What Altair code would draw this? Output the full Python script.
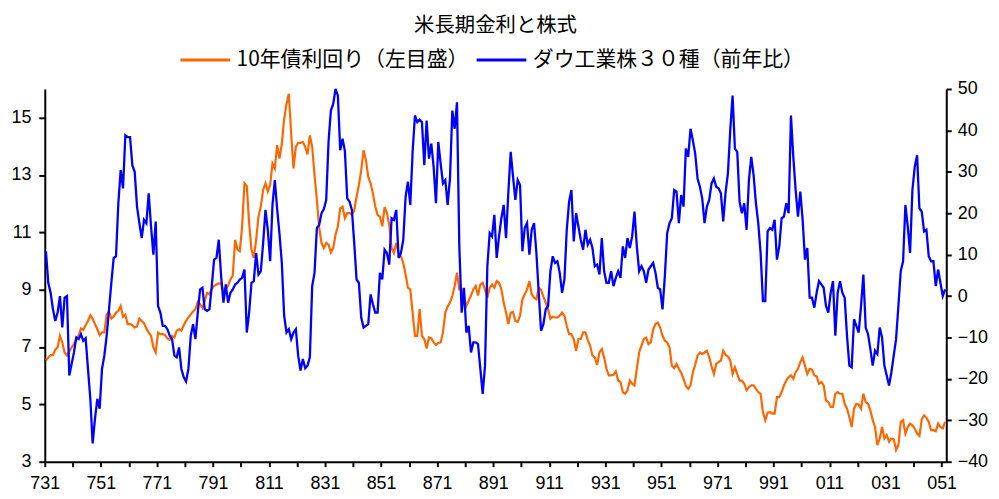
import altair as alt
import pandas as pd

title_text = "米長期金利と株式"
series_names = ["10年債利回り（左目盛）", "ダウ工業株３０種（前年比）"]
series_colors = ["#FF6600", "#0000FF"]
start_year = 1973  # monthly data, 1973/1 ..
label_every_months = 24
tick_every_months = 12

# US 10-year Treasury yield (%), monthly, left axis
yield_10y = [
    6.53, 6.64, 6.72, 6.72, 6.91, 6.99, 7.39, 7.16, 6.81, 6.70, 6.84, 6.99,
    7.10, 7.33, 7.39, 7.65, 7.60, 7.76, 7.91, 8.11, 7.99, 7.80, 7.62, 7.42,
    7.51, 7.51, 8.14, 8.24, 7.99, 8.06, 8.20, 8.26, 8.43, 8.06, 8.13, 7.80,
    7.80, 7.76, 7.68, 7.72, 7.99, 7.91, 7.83, 7.65, 7.51, 7.39, 6.99, 6.81,
    7.50, 7.45, 7.45, 7.42, 7.30, 7.25, 7.39, 7.33, 7.57, 7.62, 7.57, 7.76,
    7.91, 8.03, 8.14, 8.24, 8.32, 8.57, 8.49, 8.37, 8.61, 8.89, 8.84, 9.03,
    9.13, 9.18, 9.22, 9.22, 8.95, 9.03, 9.15, 9.36, 9.50, 10.74, 10.40, 10.34,
    11.21, 12.71, 12.61, 11.32, 10.40, 10.11, 10.74, 11.55, 11.90, 12.48, 12.71, 12.42,
    12.65, 13.40, 13.23, 14.04, 13.57, 14.09, 14.96, 15.48, 15.83, 14.44, 13.23, 13.98,
    14.12, 14.12, 14.15, 13.98, 13.72, 14.38, 13.98, 13.00, 12.13, 11.15, 10.63, 10.45,
    10.63, 10.57, 10.30, 10.45, 10.92, 11.21, 11.84, 11.90, 11.49, 11.67, 11.67, 11.61,
    11.76, 12.24, 12.65, 13.17, 13.86, 13.52, 12.94, 12.71, 12.36, 11.90, 11.61, 11.55,
    11.21, 11.88, 11.67, 11.26, 10.45, 10.28, 10.63, 10.28, 10.17, 9.93, 9.53, 9.07,
    9.01, 8.20, 7.39, 7.39, 8.32, 7.39, 7.28, 6.95, 7.33, 7.30, 7.16, 7.07,
    7.14, 7.16, 7.51, 8.20, 8.41, 8.55, 8.78, 9.13, 9.59, 9.01, 9.03, 8.78,
    8.43, 8.61, 8.80, 9.01, 9.13, 8.80, 9.18, 9.24, 9.01, 8.72, 9.07, 9.18,
    9.07, 9.30, 9.24, 9.01, 8.55, 8.20, 7.80, 8.20, 8.22, 7.91, 7.88, 8.09,
    8.66, 8.84, 9.01, 9.30, 8.84, 8.72, 8.66, 9.07, 8.99, 8.76, 8.55, 8.32,
    7.99, 8.06, 8.03, 8.03, 8.09, 8.20, 8.09, 7.74, 7.45, 7.45, 7.28, 6.87,
    7.28, 7.28, 7.51, 7.51, 7.25, 7.05, 6.70, 6.64, 6.38, 6.81, 6.93, 6.64,
    6.24, 6.01, 6.01, 6.03, 6.15, 5.83, 5.78, 5.43, 5.37, 5.49, 5.83, 5.72,
    5.66, 6.24, 6.81, 7.05, 7.28, 7.33, 7.10, 7.16, 7.62, 7.80, 7.85, 7.68,
    7.39, 7.22, 7.16, 6.99, 6.35, 6.26, 6.41, 6.24, 6.10, 5.89, 5.64, 5.54,
    5.66, 6.12, 6.38, 6.70, 6.81, 6.76, 6.81, 6.87, 6.64, 6.33, 6.06, 6.41,
    6.47, 6.53, 6.87, 6.73, 6.67, 6.53, 6.06, 6.29, 6.06, 5.83, 5.83, 5.72,
    5.49, 5.60, 5.66, 5.66, 5.54, 5.43, 5.37, 4.73, 4.45, 4.71, 4.73, 4.68,
    4.68, 5.25, 5.25, 5.43, 5.66, 5.83, 5.95, 6.01, 5.89, 6.12, 6.24, 6.47,
    6.64, 6.35, 6.06, 6.24, 6.21, 6.01, 5.98, 5.72, 5.78, 5.66, 5.14, 5.08,
    4.91, 4.91, 5.37, 5.43, 5.37, 5.37, 5.02, 4.85, 4.56, 4.21, 4.85, 5.02,
    4.99, 4.85, 5.37, 5.08, 5.02, 4.79, 4.45, 4.21, 3.58, 3.81, 4.21, 3.81,
    3.93, 3.70, 3.81, 3.79, 3.41, 3.58, 4.39, 4.45, 3.98, 4.21, 4.33, 4.27,
    4.16, 3.98, 3.90, 4.48, 4.62, 4.53, 4.39, 4.10, 4.10, 4.06, 4.33, 4.21,
    4.16, 4.39,
]

# Dow Jones Industrial Average 30, year-over-year change (%), right axis
dow_yoy = [
    10.8, 3.2, 0.8, -3.2, -6.0, -4.0, 0.0, -7.6, -0.4, 0.0, -19.2, -16.4,
    -13.6, -10.0, -10.4, -9.2, -10.8, -10.2, -17.6, -24.8, -35.6, -29.6, -24.8, -27.2,
    -17.6, -14.4, -9.6, -3.2, 3.2, 9.2, 9.6, 22.4, 30.4, 26.0, 38.8, 38.4,
    38.4, 31.6, 30.0, 21.6, 17.6, 14.0, 18.4, 17.6, 24.8, 16.8, 10.0, 18.0,
    -2.4, -4.0, -7.2, -7.2, -8.0, -9.6, -10.4, -14.4, -14.8, -12.4, -17.6, -19.6,
    -20.6, -17.6, -9.6, -6.8, -10.4, -4.0, 1.6, 2.0, -3.2, -3.6, -3.2, 2.4,
    8.8, 9.2, 13.6, 4.8, -1.6, 2.8, -1.6, 0.8, 1.6, 2.8, 3.2, 4.0,
    4.4, 6.4, -8.8, -4.0, 3.2, 3.6, 10.4, 5.2, 6.0, 12.8, 20.8, 16.0,
    8.4, 22.0, 28.0, 21.0, 15.0, 8.0, -4.8, -8.8, -8.0, -10.4, -8.8, -8.0,
    -14.4, -18.0, -15.2, -17.4, -16.8, -14.8, 2.4, 5.6, 16.4, 17.2, 20.0, 21.0,
    23.2, 37.2, 44.8, 46.4, 50.0, 48.4, 35.2, 38.0, 35.0, 23.6, 22.8, 20.8,
    12.8, 4.0, 3.2, -5.2, -7.6, -7.2, -6.8, 0.4, -2.0, -4.0, -4.0, 5.6,
    4.0, 11.2, 10.4, 7.6, 18.8, 18.4, 20.8, 9.2, 10.4, 13.6, 24.0, 27.6,
    22.0, 34.8, 43.6, 42.0, 42.6, 42.0, 31.6, 42.4, 33.2, 36.8, 31.2, 22.4,
    37.2, 32.0, 27.2, 28.0, 22.0, 28.4, 44.8, 40.4, 46.8, 12.0, -4.0, 2.0,
    -8.8, -7.2, -13.6, -11.2, -11.2, -11.6, -17.6, -23.6, -16.8, 7.2, 15.2, 14.4,
    19.6, 9.2, 14.4, 18.8, 22.0, 14.0, 25.2, 34.8, 28.8, 23.2, 28.0, 26.8,
    10.8, 16.4, 17.6, 10.0, 16.0, 17.6, 10.4, 0.8, -8.4, -6.8, -3.2, -2.4,
    6.0, 9.6, 8.0, 8.4, 5.6, 0.8, 4.0, 16.0, 22.8, 25.6, 13.2, 20.0,
    16.8, 13.6, 11.2, 16.0, 12.4, 13.6, 11.6, 7.2, 7.6, 5.2, 14.0, 6.0,
    3.2, 3.2, 6.0, 2.4, 4.4, 6.0, 4.4, 12.0, 9.2, 14.0, 11.6, 14.4,
    20.4, 12.0, 6.0, 7.2, 6.0, 3.2, 6.4, 7.2, 8.0, 5.6, 2.0, 1.6,
    -3.2, 4.8, 15.2, 17.6, 18.8, 25.6, 25.2, 17.6, 24.4, 21.6, 35.6, 33.6,
    40.4, 37.6, 34.4, 28.4, 26.4, 23.6, 17.6, 21.6, 23.2, 27.2, 28.4, 26.4,
    26.0, 24.8, 18.0, 25.0, 29.6, 40.0, 48.4, 35.6, 34.8, 22.8, 20.0, 22.4,
    16.0, 28.0, 33.6, 29.2, 22.4, 17.6, 10.4, -1.2, -1.2, 15.6, 16.4, 16.0,
    18.4, 8.8, 12.0, 18.8, 19.2, 22.4, 20.0, 43.6, 33.6, 25.6, 19.2, 25.2,
    18.4, 8.8, 11.6, -0.4, -0.4, -2.8, 0.8, 3.6, 2.8, 2.0, -2.4, -4.0,
    0.8, 3.6, -9.6, 0.8, 3.6, 0.8, -0.4, -9.6, -16.8, -17.2, -5.6, -7.2,
    -8.8, -2.4, 5.2, -7.6, -9.2, -12.8, -16.8, -13.2, -14.0, -7.6, -10.0, -16.8,
    -19.2, -21.6, -18.4, -14.4, -10.4, -2.4, 6.0, 8.4, 22.0, 16.8, 10.4, 25.6,
    31.2, 34.0, 21.2, 20.4, 15.6, 16.0, 9.6, 8.4, 8.4, 2.4, 6.4, 3.2,
    0.0, 1.6,
]

left_ticks = [3, 5, 7, 9, 11, 13, 15]
left_domain = [3, 16]
right_ticks = [-40, -30, -20, -10, 0, 10, 20, 30, 40, 50]
right_domain = [-40, 50]

n = len(yield_10y)
t = [i + 0.5 for i in range(n)]
df_y = pd.DataFrame({"t": t, "value": yield_10y, "series": series_names[0]})
df_d = pd.DataFrame({"t": t, "value": dow_yoy, "series": series_names[1]})

yy = start_year % 100
label_expr = (
    f"datum.value % {label_every_months} == 0 ? "
    f"((floor({yy} + datum.value / 12) % 100) < 10 ? '0' : '') + "
    f"(floor({yy} + datum.value / 12) % 100) + '1' : ''"
)

x_enc = alt.X(
    "t:Q",
    scale=alt.Scale(domain=[0, n], nice=False, zero=False),
    axis=alt.Axis(
        values=list(range(0, n, tick_every_months)),
        labelExpr=label_expr,
        title=None,
        labelFlush=False,
        labelOverlap=False,
        labelPadding=8,
        tickSize=5,
    ),
)

color_enc = alt.Color(
    "series:N",
    scale=alt.Scale(domain=series_names, range=series_colors),
    legend=alt.Legend(
        title=None,
        orient="none",
        legendX=135,
        legendY=-56,
        direction="horizontal",
        symbolType="stroke",
        symbolSize=2500,
        symbolStrokeWidth=3,
        labelFont="Noto Sans CJK JP",
        labelFontSize=21,
        labelColor="black",
        labelLimit=500,
        labelOffset=5,
        columnPadding=1,
    ),
)

orange = alt.Chart(df_y).mark_line(strokeWidth=2.2).encode(
    x=x_enc,
    y=alt.Y(
        "value:Q",
        scale=alt.Scale(domain=left_domain, nice=False, zero=False),
        axis=alt.Axis(values=left_ticks, title=None, orient="left", labelPadding=8, tickSize=6),
    ),
    color=color_enc,
)

blue = alt.Chart(df_d).mark_line(strokeWidth=2.3).encode(
    x=x_enc,
    y=alt.Y(
        "value:Q",
        scale=alt.Scale(domain=right_domain, nice=False, zero=False),
        axis=alt.Axis(values=right_ticks, title=None, orient="right", labelPadding=6, tickSize=5),
    ),
    color=color_enc,
)

chart = (
    alt.layer(orange, blue)
    .resolve_scale(y="independent")
    .properties(
        width=907,
        height=375,
        autosize=alt.AutoSizeParams(type="none"),
        padding={"left": 37, "top": 80, "right": 45, "bottom": 30},
        title=alt.TitleParams(
            text=title_text,
            font="Noto Sans CJK JP",
            fontSize=20.5,
            fontWeight="normal",
            color="black",
            anchor="middle",
            offset=-3,
        ),
    )
    .configure_view(stroke=None)
    .configure_axis(
        domainColor="black",
        domainWidth=2,
        tickColor="black",
        tickWidth=2,
        labelFont="Liberation Sans",
        labelFontSize=18,
        labelColor="black",
        grid=False,
    )
)

chart.save("out.html", embed_options={"renderer": "svg", "actions": False})
